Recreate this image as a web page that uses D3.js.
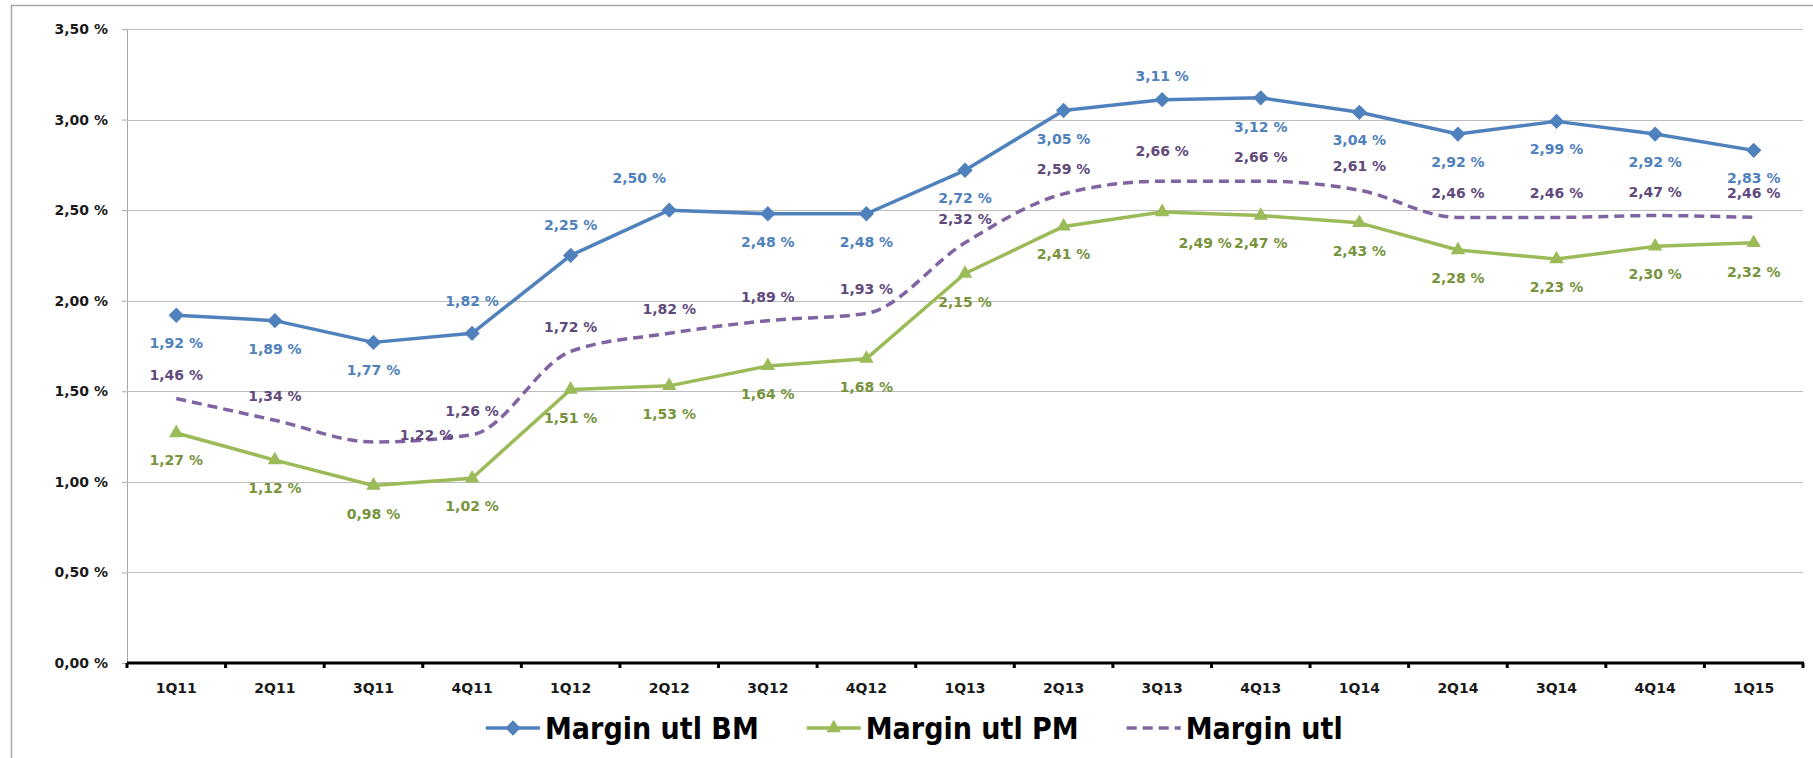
<!DOCTYPE html>
<html>
<head>
<meta charset="utf-8">
<script src="https://cdn.jsdelivr.net/npm/d3@7"></script>
<style>
  html, body { margin: 0; padding: 0; background: #fff; }
  svg { display: block; font-family: "DejaVu Sans", Verdana, sans-serif; }
</style>
</head>
<body>
<div id="chart"></div>
<script>
const quarters = ['1Q11', '2Q11', '3Q11', '4Q11', '1Q12', '2Q12', '3Q12', '4Q12', '1Q13',
  '2Q13', '3Q13', '4Q13', '1Q14', '2Q14', '3Q14', '4Q14', '1Q15'];
const marginBM = [1.92, 1.89, 1.77, 1.82, 2.25, 2.50, 2.48, 2.48, 2.72, 3.05, 3.11, 3.12, 3.04, 2.92, 2.99, 2.92, 2.83];
const marginPM = [1.27, 1.12, 0.98, 1.02, 1.51, 1.53, 1.64, 1.68, 2.15, 2.41, 2.49, 2.47, 2.43, 2.28, 2.23, 2.30, 2.32];
const marginUtl = [1.46, 1.34, 1.22, 1.26, 1.72, 1.82, 1.89, 1.93, 2.32, 2.59, 2.66, 2.66, 2.61, 2.46, 2.46, 2.47, 2.46];
const yTicks = [0, 0.5, 1, 1.5, 2, 2.5, 3, 3.5];
const seriesNames = ['Margin utl BM', 'Margin utl PM', 'Margin utl'];

// label placement (pixel offsets from the point), as set by hand in the original
const bmLabelDy = [28, 28, 28, -32, -30, -32, 28, 28, 28, 28, -24, 29, 28, 28, 28, 28, 28];
const bmLabelDx = [0, 0, 0, 0, 0, -30, 0, 0, 0, 0, 0, 0, 0, 0, 0, 0, 0];
const pmLabelDy = [27, 28, 28, 28, 28, 28, 28, 28, 28, 28, 31, 27, 28, 28, 28, 28, 29];
const pmLabelDx = [0, 0, 0, 0, 0, 0, 0, 0, 0, 0, 43, 0, 0, 0, 0, 0, 0];
const utlLabelDy = [-24, -24, -7, -24, -24, -24, -24, -24, -24, -25, -30, -24, -24, -24, -24, -24, -24];
const utlLabelDx = [0, 0, 53, 0, 0, 0, 0, 0, 0, 0, 0, 0, 0, 0, 0, 0, 0];

const svgWidth = 1813, svgHeight = 758;
const plot = { left: 127, right: 1803, top: 29, bottom: 663 };

const svg = d3.select('#chart').append('svg')
  .attr('width', svgWidth)
  .attr('height', svgHeight);

// outer chart border (only top and left fall inside the picture)
svg.append('path')
  .attr('d', `M11.5,${svgHeight} V5.5 H${svgWidth}`)
  .attr('fill', 'none')
  .attr('stroke', '#a6a6a6')
  .attr('stroke-width', 1.5);

const locale = d3.formatLocale({ decimal: ',', thousands: ' ', grouping: [3], currency: ['', ''] });
const fmt = v => locale.format('.2f')(v) + ' %';

const x = d3.scaleBand()
  .domain(quarters)
  .range([plot.left, plot.right]);
const cx = q => x(q) + x.bandwidth() / 2;

const y = d3.scaleLinear()
  .domain([0, 3.5])
  .range([plot.bottom, plot.top]);

// gridlines + y axis
const yAxis = svg.append('g')
  .attr('transform', `translate(${plot.left},0)`)
  .call(d3.axisLeft(y).tickValues(yTicks).tickSize(5).tickPadding(14).tickFormat(fmt));
yAxis.select('.domain').attr('stroke', '#a6a6a6');
yAxis.selectAll('.tick line').attr('stroke', '#a6a6a6');
yAxis.selectAll('.tick text')
  .attr('fill', '#1a1a1a')
  .attr('font-size', 14)
  .attr('font-weight', 'bold')
  .attr('font-family', '"DejaVu Sans", Verdana, sans-serif');

svg.append('g')
  .selectAll('line')
  .data(yTicks.filter(d => d > 0))
  .enter().append('line')
  .attr('x1', plot.left)
  .attr('x2', plot.right)
  .attr('y1', d => Math.round(y(d)) + 0.5)
  .attr('y2', d => Math.round(y(d)) + 0.5)
  .attr('stroke', '#bdbdbd')
  .attr('stroke-width', 1.2);

// x axis
const xAxis = svg.append('g')
  .attr('transform', `translate(0,${plot.bottom})`)
  .call(d3.axisBottom(x).tickSize(0).tickPadding(20));
xAxis.select('.domain').remove();
xAxis.selectAll('.tick text')
  .attr('fill', '#1a1a1a')
  .attr('font-size', 14)
  .attr('font-weight', 'bold')
  .attr('font-family', '"DejaVu Sans", Verdana, sans-serif');
svg.append('line')
  .attr('x1', plot.left)
  .attr('x2', plot.right + 1)
  .attr('y1', plot.bottom)
  .attr('y2', plot.bottom)
  .attr('stroke', '#000')
  .attr('stroke-width', 3);
svg.append('g')
  .selectAll('line')
  .data(quarters.concat(['end']))
  .enter().append('line')
  .attr('x1', (d, i) => plot.left + i * x.bandwidth())
  .attr('x2', (d, i) => plot.left + i * x.bandwidth())
  .attr('y1', plot.bottom)
  .attr('y2', plot.bottom + 5)
  .attr('stroke', '#000')
  .attr('stroke-width', 3);

const series = [
  { name: seriesNames[0], values: marginBM, color: '#4f81bd', labelColor: '#4f81bd', marker: 'diamond', dash: null, curve: d3.curveLinear, dx: bmLabelDx, dy: bmLabelDy },
  { name: seriesNames[1], values: marginPM, color: '#9bbb59', labelColor: '#77933c', marker: 'triangle', dash: null, curve: d3.curveLinear, dx: pmLabelDx, dy: pmLabelDy },
  { name: seriesNames[2], values: marginUtl, color: '#8064a2', labelColor: '#604a7b', marker: null, dash: '10,6', curve: d3.curveMonotoneX, dx: utlLabelDx, dy: utlLabelDy }
];

const symbolFor = m => m === 'diamond'
  ? d3.symbol().type(d3.symbolDiamond2).size(150)
  : d3.symbol().type(d3.symbolTriangle2).size(150);

series.forEach(s => {
  const line = d3.line()
    .x((d, i) => cx(quarters[i]))
    .y(d => y(d))
    .curve(s.curve);
  svg.append('path')
    .datum(s.values)
    .attr('d', line)
    .attr('fill', 'none')
    .attr('stroke', s.color)
    .attr('stroke-width', 3.5)
    .attr('stroke-linejoin', 'round')
    .attr('stroke-dasharray', s.dash);

  if (s.marker) {
    svg.append('g')
      .selectAll('path')
      .data(s.values)
      .enter().append('path')
      .attr('d', symbolFor(s.marker))
      .attr('transform', (d, i) => `translate(${cx(quarters[i])},${y(d)})`)
      .attr('fill', s.color);
  }
});

series.forEach(s => {
  svg.append('g')
    .selectAll('text')
    .data(s.values)
    .enter().append('text')
    .attr('x', (d, i) => cx(quarters[i]) + s.dx[i])
    .attr('y', (d, i) => y(d) + s.dy[i])
    .attr('dy', '0.36em')
    .attr('text-anchor', 'middle')
    .attr('font-size', 14)
    .attr('font-weight', 'bold')
    .attr('fill', s.labelColor)
    .text(d => fmt(d));
});

// legend
const legend = svg.append('g').attr('transform', 'translate(486,728)');
let lx = 0;
series.forEach(s => {
  const item = legend.append('g').attr('transform', `translate(${lx},0)`);
  item.append('line')
    .attr('x1', 0).attr('x2', 54)
    .attr('stroke', s.color)
    .attr('stroke-width', 3.5)
    .attr('stroke-dasharray', s.dash);
  if (s.marker) {
    item.append('path')
      .attr('d', symbolFor(s.marker))
      .attr('transform', 'translate(27,0)')
      .attr('fill', s.color);
  }
  const t = item.append('text')
    .attr('x', 59)
    .attr('dy', '0.36em')
    .attr('font-size', 30)
    .attr('font-weight', 'bold')
    .attr('font-family', '"DejaVu Sans Condensed", "DejaVu Sans", sans-serif')
    .attr('font-stretch', 'condensed')
    .attr('fill', '#000')
    .text(s.name);
  lx += 59 + t.node().getComputedTextLength() + 48;
});
</script>
</body>
</html>
